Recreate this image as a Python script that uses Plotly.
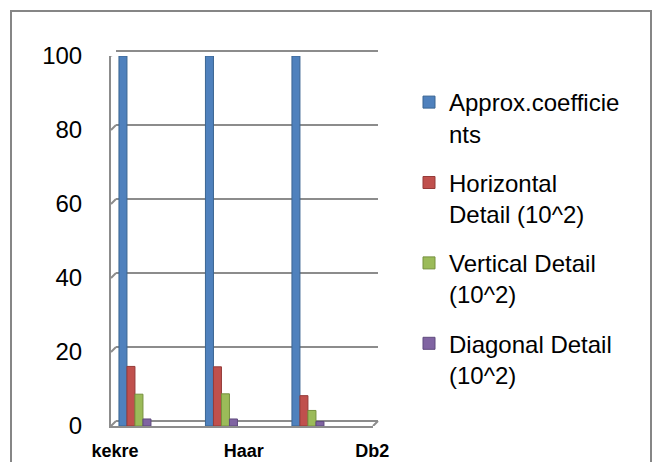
import plotly.graph_objects as go

W, H = 653, 462

# Wavelet methods and their sub-band energies
methods = ["kekre", "Haar", "Db2"]
series_names = [
    "Approx.coefficie<br>nts",
    "Horizontal<br>Detail (10^2)",
    "Vertical Detail<br>(10^2)",
    "Diagonal Detail<br>(10^2)",
]
approx = [100, 100, 100]
horizontal = [16.1, 16.0, 8.2]
vertical = [8.6, 8.7, 4.2]
diagonal = [1.9, 1.9, 1.2]
y_ticks = [0, 20, 40, 60, 80, 100]

colors = ["#4F81BD", "#C0504D", "#9BBB59", "#8064A2"]
edges = ["#3B6592", "#953B39", "#77923F", "#5F4A7E"]
GRID = "#8c8c8c"
TXT = "Liberation Sans"
PX_PER_UNIT = 3.7


def fx(p):
    return p / W


def fy(p):
    return 1 - p / H


fig = go.Figure()

# back wall: an empty trace so the gridded subplot is laid out
fig.add_trace(go.Scatter(
    x=[0.5], y=[50], mode="markers", marker=dict(opacity=0),
    showlegend=False, hoverinfo="skip", xaxis="x", yaxis="y",
))

for name, vals, c, e in zip(series_names, [approx, horizontal, vertical, diagonal], colors, edges):
    fig.add_trace(go.Bar(
        x=methods, y=vals, name=name, legendgroup=name,
        marker=dict(color=c, line=dict(color=e, width=1)),
        xaxis="x2", yaxis="y2",
    ))

# carrier for the category labels row
fig.add_trace(go.Scatter(
    x=list(range(len(methods))), y=[0] * len(methods), mode="markers",
    marker=dict(opacity=0), showlegend=False, hoverinfo="skip",
    xaxis="x3", yaxis="y2",
))

shapes = []
# wall edges joining front and back planes
for v in y_ticks:
    shapes.append(dict(
        type="line", xref="x2 domain", yref="y2",
        xsizemode="pixel", xanchor=0, x0=0, x1=5,
        ysizemode="pixel", yanchor=v, y0=0, y1=5,
        line=dict(color=GRID, width=2),
    ))
shapes.append(dict(
    type="line", xref="x2 domain", yref="y2",
    xsizemode="pixel", xanchor=1, x0=0, x1=5,
    ysizemode="pixel", yanchor=0, y0=0, y1=5,
    line=dict(color=GRID, width=2),
))
# chart frame
shapes.append(dict(
    type="rect", xref="paper", yref="paper",
    x0=fx(11), x1=fx(651), y0=fy(480), y1=fy(11),
    line=dict(color="#868686", width=2), fillcolor="rgba(0,0,0,0)",
))

# back wall padded by one unit on each end so the 0 and 100 gridlines draw
pad = 1
back_bottom = 421 + pad * PX_PER_UNIT
back_top = 51 - pad * PX_PER_UNIT

fig.update_layout(
    width=W, height=H,
    margin=dict(l=0, r=0, t=0, b=0, autoexpand=False),
    paper_bgcolor="white", plot_bgcolor="rgba(0,0,0,0)",
    barmode="group", bargap=0.63, bargroupgap=0,
    font=dict(family=TXT, size=24, color="black"),
    shapes=shapes,
    # back wall with gridlines
    xaxis=dict(domain=[fx(116), fx(378)], range=[0, 1], showgrid=False,
               showticklabels=False, zeroline=False, showline=False, anchor="y"),
    yaxis=dict(domain=[fy(back_bottom), fy(back_top)], range=[-pad, 100 + pad],
               tickvals=y_ticks, showgrid=True, gridcolor=GRID, gridwidth=2,
               zeroline=False, showticklabels=False, showline=False, anchor="x"),
    # front plane with bars
    xaxis2=dict(domain=[fx(111), fx(373)], range=[-0.277, 2.752], type="category",
                showgrid=False, showticklabels=False, zeroline=False,
                showline=True, linecolor=GRID, linewidth=2, anchor="y2"),
    yaxis2=dict(domain=[fy(426), fy(56)], range=[0, 100], tickvals=y_ticks,
                showgrid=False, zeroline=False, showline=True, linecolor=GRID,
                linewidth=2, anchor="x2", ticks="", ticklabelstandoff=22,
                tickfont=dict(family=TXT, size=24, color="black")),
    xaxis3=dict(overlaying="x2", anchor="y2", range=[-0.031, 2.005],
                tickvals=list(range(len(methods))), ticktext=methods,
                showgrid=False, zeroline=False, showline=False, ticks="",
                ticklabelstandoff=12,
                tickfont=dict(family=TXT, size=18, color="black", weight="bold")),
    legend=dict(x=fx(409), y=fy(80), xanchor="left", yanchor="top",
                font=dict(family=TXT, size=24, color="black"),
                valign="top", tracegroupgap=15, bgcolor="rgba(0,0,0,0)"),
    showlegend=True,
)

fig.write_html("out.html")
